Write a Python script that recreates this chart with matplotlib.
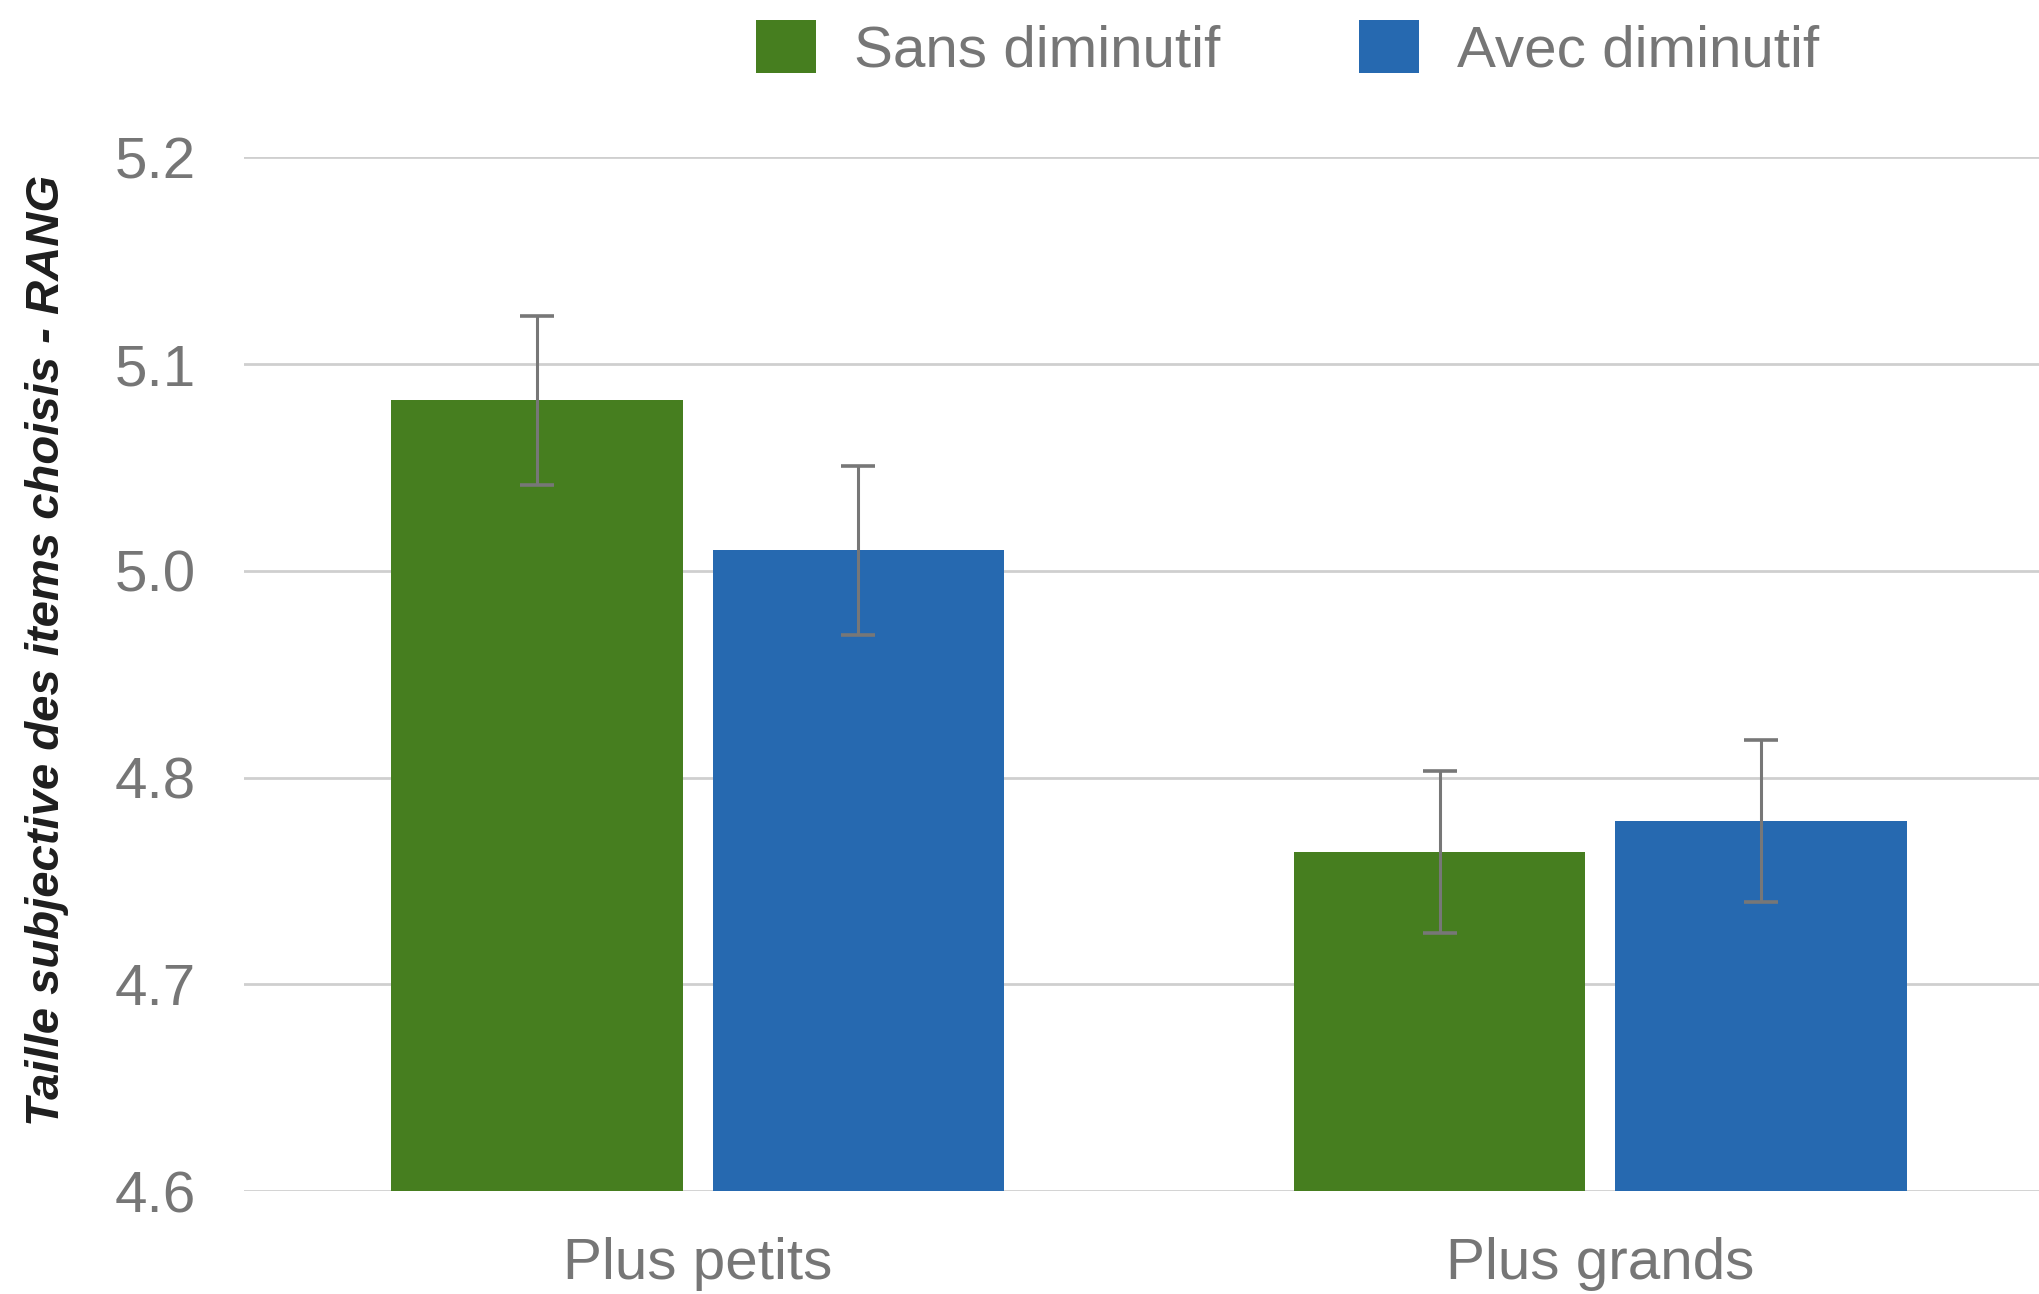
import numpy as np
import matplotlib
matplotlib.use("Agg")
import matplotlib.pyplot as plt

# Data
categories = ["Plus petits", "Plus grands"]
series_names = ["Sans diminutif", "Avec diminutif"]
sans_means = [5.059, 4.797]
sans_errors = [0.049, 0.047]
avec_means = [4.972, 4.815]
avec_errors = [0.049, 0.047]

green = "#467E1F"
blue = "#2669B0"
grey_text = "#767676"

plt.rcParams["font.family"] = ["Liberation Sans", "DejaVu Sans"]

fig = plt.figure(figsize=(20.39, 12.94), dpi=100)
ax = fig.add_axes([0.1199, 0.0794, 0.8801, 0.7990])

x = np.arange(len(categories))
bar_width = 0.323
offset = 0.178
err_style = dict(ecolor="#777777", elinewidth=2.2, capsize=12, capthick=2.6)

ax.bar(x - offset, sans_means, bar_width, color=green, label=series_names[0],
       zorder=2)
ax.bar(x + offset, avec_means, bar_width, color=blue, label=series_names[1],
       zorder=2)
ax.errorbar(x - offset, sans_means, yerr=sans_errors, fmt="none", zorder=3,
            **err_style)
ax.errorbar(x + offset, avec_means, yerr=avec_errors, fmt="none", zorder=3,
            **err_style)

# y axis: 6 evenly spaced gridlines from 4.6 to 5.2, labels rounded to 1 decimal
ax.set_ylim(4.6, 5.2)
ax.set_yticks(np.linspace(4.6, 5.2, 6))
ax.yaxis.set_major_formatter(matplotlib.ticker.FormatStrFormatter("%.1f"))
ax.yaxis.grid(True, color="#cfcfcf", linewidth=2.0, zorder=0)
ax.set_axisbelow(True)

ax.set_xlim(-0.502, 1.486)
ax.set_xticks(x)
ax.set_xticklabels(categories)

for spine in ax.spines.values():
    spine.set_visible(False)
ax.tick_params(axis="both", length=0, labelsize=42, labelcolor=grey_text)
ax.tick_params(axis="y", pad=35)
ax.tick_params(axis="x", pad=33)

fig.text(0.023, 0.497, "Taille subjective des items choisis - RANG",
         rotation=90, ha="center", va="center", fontsize=34,
         fontweight="bold", fontstyle="italic", color="#1e1e1e")

leg = fig.legend(loc="center", bbox_to_anchor=(0.6315, 0.962), ncol=2,
                 frameon=False, fontsize=42, handlelength=1.03,
                 handleheight=1.02, handletextpad=0.65, columnspacing=2.37,
                 borderpad=0)
for text in leg.get_texts():
    text.set_color(grey_text)

fig.savefig("out.png", dpi=100)
